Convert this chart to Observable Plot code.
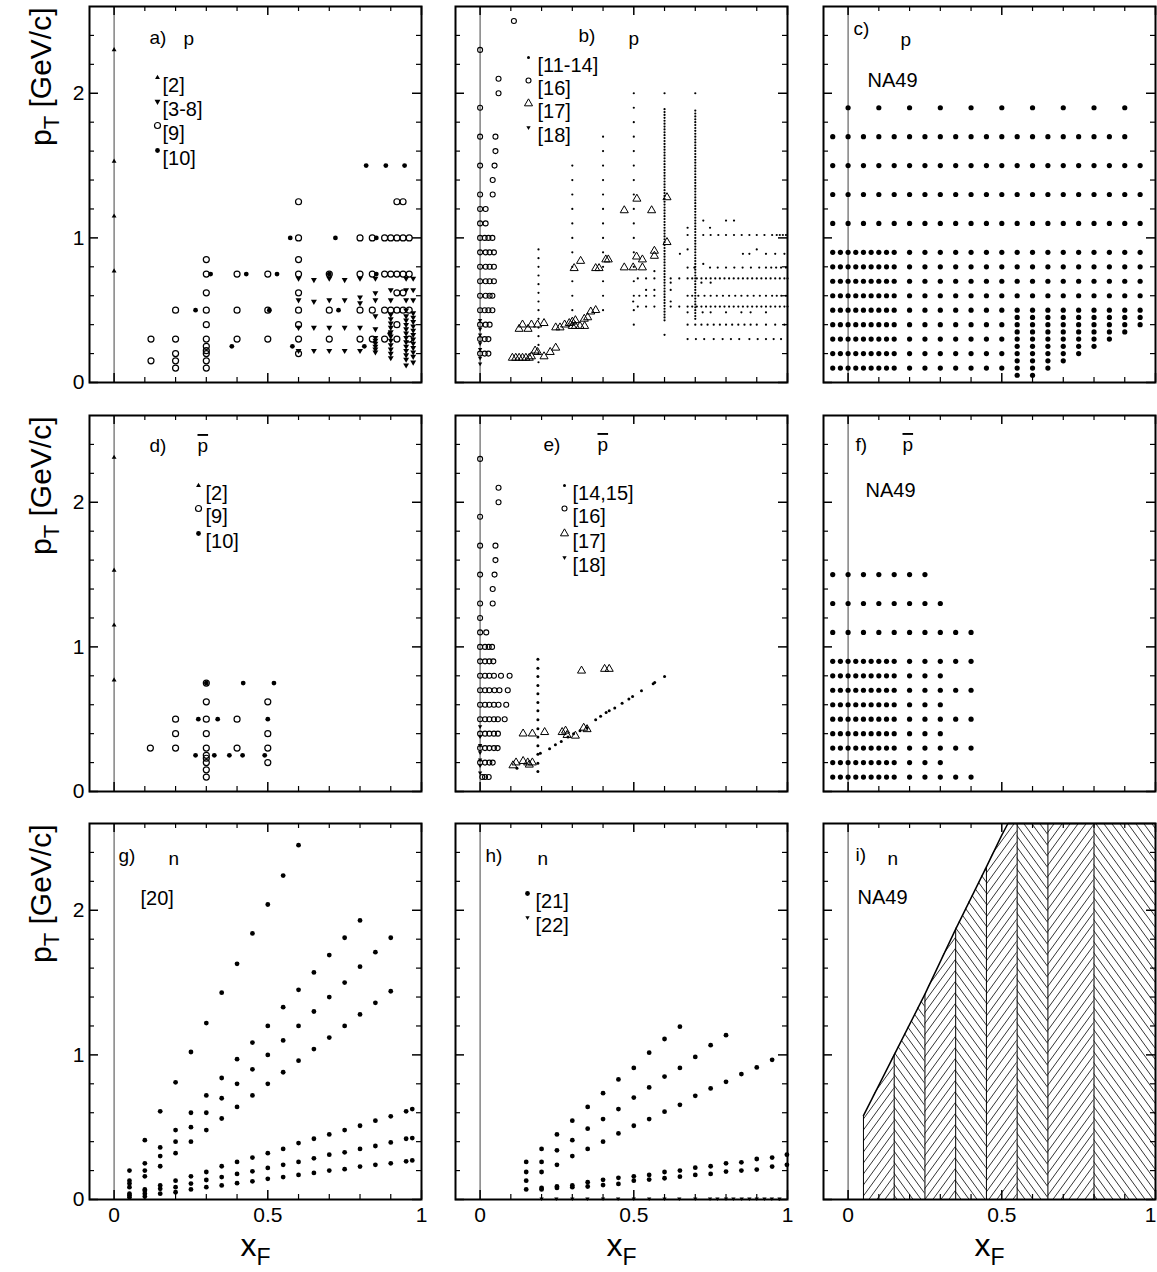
<!DOCTYPE html>
<html><head><meta charset="utf-8">
<script src="https://cdn.jsdelivr.net/npm/d3@7"></script>
<script src="https://cdn.jsdelivr.net/npm/@observablehq/plot@0.6"></script>
<style>
body{margin:0;background:#fff;}
#chart{position:relative;width:1157px;height:1272px;overflow:hidden;background:#fff;}
#chart svg{position:absolute;background:transparent;max-width:none;overflow:visible;}
</style></head><body><div id="chart"></div>
<script>
// ---------------- data ----------------
const xMinorTicks = [0.1,0.2,0.3,0.4,0.6,0.7,0.8,0.9];
const xMajorTicks = [0,0.5,1];
const yMinorTicks = [0.2,0.4,0.6,0.8,1.2,1.4,1.6,1.8,2.2,2.4];
const yMajorTicks = [0,1,2];

// panel a (p)
const aRef2 = [[0,0.77],[0,1.15],[0,1.53],[0,2.30]];
const aRef38 = [[0.6,0.72],[0.6,0.57],[0.6,0.38],[0.6,0.22],[0.65,0.71],[0.65,0.56],[0.65,0.38],[0.65,0.22],
 [0.7,0.72],[0.7,0.57],[0.7,0.38],[0.7,0.22],[0.75,0.71],[0.75,0.57],[0.75,0.38],[0.75,0.22],
 [0.8,0.72],[0.8,0.59],[0.8,0.55],[0.8,0.38],[0.8,0.22],
 [0.85,0.72],[0.85,0.62],[0.85,0.57],[0.85,0.46],[0.85,0.37],[0.85,0.31],[0.85,0.29],[0.85,0.27],[0.85,0.25],[0.85,0.23],[0.85,0.21],
 [0.9,0.64],[0.9,0.57],[0.9,0.47],[0.9,0.44],[0.9,0.41],[0.9,0.38],[0.9,0.35],[0.9,0.32],[0.9,0.29],[0.9,0.26],[0.9,0.23],[0.9,0.2],[0.9,0.17],
 [0.95,0.72],[0.95,0.64],[0.95,0.57],[0.95,0.5],[0.95,0.46],[0.95,0.43],[0.95,0.4],[0.95,0.37],[0.95,0.34],[0.95,0.31],[0.95,0.28],[0.95,0.25],[0.95,0.22],[0.95,0.19],[0.95,0.16],[0.95,0.12],
 [0.973,0.72],[0.973,0.64],[0.973,0.57],[0.973,0.48],[0.973,0.45],[0.973,0.42],[0.973,0.39],[0.973,0.36],[0.973,0.33],[0.973,0.3],[0.973,0.27],[0.973,0.24],[0.973,0.21],[0.973,0.18],[0.973,0.14]];
const aRef9 = [[0.12,0.3],[0.12,0.15],[0.2,0.5],[0.2,0.3],[0.2,0.2],[0.2,0.15],[0.2,0.1],
 [0.3,0.85],[0.3,0.75],[0.3,0.62],[0.3,0.5],[0.3,0.4],[0.3,0.3],[0.3,0.25],[0.3,0.22],[0.3,0.2],[0.3,0.15],[0.3,0.1],
 [0.4,0.75],[0.4,0.5],[0.4,0.3],[0.5,0.75],[0.5,0.5],[0.5,0.3],
 [0.6,1.25],[0.6,1.0],[0.6,0.85],[0.6,0.75],[0.6,0.62],[0.6,0.5],[0.6,0.4],[0.6,0.3],[0.6,0.2],
 [0.7,0.75],[0.7,0.5],[0.7,0.3],[0.8,1.0],[0.8,0.75],[0.8,0.5],[0.8,0.3],
 [0.84,1.0],[0.84,0.75],[0.84,0.5],[0.84,0.3],[0.88,1.0],[0.88,0.75],[0.88,0.5],[0.88,0.3],
 [0.9,1.0],[0.9,0.75],[0.9,0.5],[0.92,1.25],[0.92,1.0],[0.92,0.75],[0.92,0.62],[0.92,0.5],[0.92,0.4],[0.92,0.3],
 [0.94,1.25],[0.94,1.0],[0.94,0.75],[0.94,0.62],[0.94,0.5],[0.96,1.0],[0.96,0.75],[0.96,0.5],[0.96,0.3]];
const aRef10 = [[0.265,0.5],[0.314,0.75],[0.383,0.25],[0.43,0.75],[0.505,0.5],[0.53,0.75],[0.573,1.0],[0.58,0.25],
 [0.7,0.75],[0.72,1.0],[0.73,0.5],[0.814,0.25],[0.82,1.5],[0.853,1.0],[0.853,0.75],[0.884,1.5],[0.945,1.5],[0.897,0.34]];

// panel b (p)
const bRef16 = [[0,2.3],[0,1.9],[0,1.7],[0,1.5],[0,1.3],[0,1.2],[0,1.1],[0,1.0],[0,0.9],[0,0.8],[0,0.7],[0,0.6],[0,0.5],[0,0.4],[0,0.3],[0,0.2],
 [0.018,1.2],[0.018,1.1],[0.015,1.0],[0.027,1.0],[0.04,1.0],[0.018,0.9],[0.031,0.9],[0.045,0.9],
 [0.018,0.8],[0.031,0.8],[0.045,0.8],[0.018,0.7],[0.031,0.7],[0.045,0.7],[0.018,0.6],[0.031,0.6],[0.04,0.6],
 [0.015,0.5],[0.027,0.5],[0.04,0.5],[0.018,0.4],[0.031,0.4],[0.015,0.3],[0.027,0.3],[0.015,0.2],[0.027,0.2],
 [0.11,2.5],[0.06,2.1],[0.06,2.0],[0.05,1.7],[0.05,1.6],[0.047,1.5],[0.041,1.4],[0.041,1.3]];
const bRef17 = [[0.105,0.17],[0.116,0.17],[0.127,0.17],[0.138,0.17],[0.149,0.17],[0.16,0.17],[0.167,0.18],[0.179,0.22],[0.187,0.21],[0.208,0.18],[0.228,0.21],[0.246,0.24],
 [0.127,0.37],[0.138,0.4],[0.156,0.37],[0.167,0.4],[0.187,0.4],[0.208,0.41],
 [0.246,0.38],[0.26,0.38],[0.275,0.4],[0.29,0.41],[0.3,0.42],[0.31,0.43],[0.3,0.39],[0.31,0.39],[0.325,0.39],[0.34,0.39],[0.339,0.44],[0.35,0.45],[0.36,0.49],[0.376,0.5],
 [0.306,0.79],[0.327,0.84],[0.376,0.79],[0.387,0.79],[0.409,0.85],[0.417,0.85],
 [0.469,0.795],[0.498,0.795],[0.528,0.795],[0.469,1.19],[0.51,1.27],[0.558,1.19],[0.509,0.87],[0.528,0.85],[0.567,0.91],[0.567,0.875],[0.608,1.28],[0.608,0.97]];
const bRef18 = [[0,0.43],[0,0.37],[0,0.33],[0,0.27],[0,0.23],[0,0.17],[0,0.13]];
const bDotColX = [0.19, 0.3, 0.4, 0.5, 0.6, 0.7];
const bDotColY = [
 [0.92,0.86,0.8,0.74,0.68,0.62,0.56,0.5,0.44,0.38,0.32,0.26,0.2,0.14],
 [1.5,1.4,1.3,1.2,1.1,1.0,0.9,0.8,0.7,0.6,0.5],
 [1.7,1.6,1.5,1.4,1.3,1.2,1.1,1.0,0.9,0.8,0.7,0.6,0.5],
 [2.0,1.9,1.8,1.7,1.6,1.5,1.4,1.3,1.2,1.1,1.0,0.9,0.8,0.7,0.6,0.5,0.4],
 [2.0,1.89,1.87,1.85,1.83,1.81,1.79,1.77,1.75,1.73,1.71,1.69,1.67,1.65,1.63,1.61,1.59,1.57,1.55,1.53,1.51,1.49,1.47,1.45,1.43,1.41,1.39,1.37,1.35,1.33,1.31,1.29,1.27,1.25,1.23,1.21,1.19,1.17,1.15,1.13,1.11,1.09,1.07,1.05,1.03,1.01,0.99,0.97,0.95,0.93,0.91,0.89,0.87,0.85,0.83,0.81,0.79,0.77,0.75,0.73,0.71,0.69,0.67,0.65,0.63,0.61,0.59,0.57,0.55,0.53,0.51,0.49,0.47,0.45,0.43,0.33],
 [2.0,1.88,1.86,1.84,1.82,1.8,1.78,1.76,1.74,1.72,1.7,1.68,1.66,1.64,1.62,1.6,1.58,1.56,1.54,1.52,1.5,1.48,1.46,1.44,1.42,1.4,1.38,1.36,1.34,1.32,1.3,1.28,1.26,1.24,1.22,1.2,1.18,1.16,1.14,1.12,1.1,1.08,1.06,1.04,1.02,1.0,0.98,0.96,0.94,0.92,0.9,0.88,0.86,0.84,0.82,0.8,0.78,0.76,0.74,0.72,0.7,0.68,0.66,0.64,0.62,0.6,0.58,0.56,0.54,0.52,0.5,0.48,0.46,0.44]
];
const bDotRowY = [1.12, 1.07, 1.02, 0.92, 0.89, 0.82, 0.795, 0.77, 0.72, 0.69, 0.64, 0.6, 0.56, 0.525, 0.485, 0.4, 0.3];
const bDotRowX = [
 [0.726,0.8,0.826],
 [0.675,0.748],
 [0.675,0.726,0.75,0.775,0.8,0.826,0.851,0.876,0.9,0.925,0.95,0.965,0.975,0.985,0.995],
 [0.675,0.9],
 [0.65,0.855,0.876,0.93,0.96,0.99],
 [0.726],
 [0.675,0.697,0.748,0.773,0.8,0.827,0.854,0.881,0.908,0.93,0.947,0.963,0.979,0.995],
 [0.567],
 [0.513,0.54,0.567,0.62,0.648,0.675,0.69,0.705,0.72,0.735,0.75,0.765,0.78,0.795,0.81,0.825,0.84,0.855,0.87,0.885,0.9,0.915,0.93,0.945,0.96,0.975,0.99,1.0],
 [0.62,0.72,0.75],
 [0.54,0.567,0.62],
 [0.518,0.54,0.567,0.675,0.69,0.71,0.73,0.75,0.77,0.79,0.81,0.83,0.85,0.87,0.89,0.91,0.93,0.95,0.965,0.98,0.995],
 [0.498,0.62],
 [0.513,0.54,0.567,0.62,0.648,0.675,0.69,0.705,0.72,0.735,0.75,0.765,0.78,0.795,0.81,0.825,0.84,0.855,0.87,0.885,0.9,0.915,0.93,0.945,0.96,0.975,0.99,1.0],
 [0.675,0.724,0.75,0.8,0.85,0.88,0.93],
 [0.675,0.7,0.72,0.74,0.76,0.78,0.8,0.82,0.84,0.86,0.88,0.9,0.93,0.96,0.99],
 [0.675,0.702,0.729,0.76,0.789,0.816,0.843,0.876,0.903,0.93,0.955,0.979]
];

// panel c (p, NA49)
const cXwide = [-0.05,0,0.05,0.1,0.15,0.2,0.25,0.3,0.35,0.4,0.45,0.5,0.55,0.6,0.65,0.7,0.75,0.8,0.85,0.9,0.95];
const cXtop = [0,0.1,0.2,0.3,0.4,0.5,0.6,0.7,0.8,0.9];
const cX17 = [-0.05,0,0.05,0.1,0.15,0.2,0.25,0.3,0.35,0.4,0.45,0.5,0.55,0.6,0.65,0.7,0.75,0.8,0.85,0.9];
const cXfine = [-0.05,-0.025,0,0.025,0.05,0.075,0.1,0.125,0.15,0.2,0.25,0.3,0.35,0.4,0.45,0.5];
const cXhigh = [0.55,0.6,0.65,0.7,0.75,0.8,0.85,0.9,0.95];
const cRowY = [1.9,1.7,1.5,1.3,1.1,0.9,0.8,0.7,0.6,0.5,0.4,0.3,0.2,0.1];
const cRowX = [cXtop,cX17,cXwide,cXwide,cXwide,
 [...cXfine,...cXhigh],[...cXfine,...cXhigh],[...cXfine,...cXhigh],[...cXfine,...cXhigh],[...cXfine,...cXhigh],
 cXfine,cXfine,cXfine,cXfine];
const cColY = [
 [0.45,0.4,0.35,0.3,0.25,0.2,0.15,0.1,0.05],
 [0.45,0.4,0.35,0.3,0.25,0.2,0.15,0.1,0.05],
 [0.45,0.4,0.35,0.3,0.25,0.2,0.15,0.1],
 [0.45,0.4,0.35,0.3,0.25,0.2,0.15],
 [0.45,0.4,0.35,0.3,0.25,0.2],
 [0.45,0.4,0.35,0.3,0.25],
 [0.45,0.4,0.35,0.3],
 [0.45,0.4,0.35],
 [0.45,0.4]
];

// panel d (pbar)
const dRef2 = [[0,0.77],[0,1.15],[0,1.53],[0,2.31]];
const dRef9 = [[0.118,0.3],[0.2,0.5],[0.2,0.4],[0.2,0.3],[0.3,0.75],[0.3,0.62],[0.3,0.5],[0.3,0.4],[0.3,0.3],[0.3,0.25],[0.3,0.23],[0.3,0.2],[0.3,0.15],[0.3,0.1],
 [0.4,0.5],[0.4,0.3],[0.5,0.62],[0.5,0.4],[0.5,0.3],[0.5,0.2]];
const dRef10 = [[0.3,0.75],[0.42,0.75],[0.52,0.75],[0.274,0.5],[0.337,0.5],[0.5,0.5],[0.265,0.25],[0.326,0.25],[0.375,0.25],[0.418,0.25],[0.49,0.25]];

// panel e (pbar)
const eRef1415 = [[0.188,0.915],[0.188,0.853],[0.188,0.796],[0.188,0.733],[0.188,0.676],[0.188,0.616],[0.188,0.558],[0.188,0.496],[0.188,0.434],[0.188,0.376],[0.188,0.316],[0.188,0.258],[0.188,0.196],[0.188,0.138],
 [0.12,0.16],[0.196,0.265],[0.226,0.295],[0.245,0.323],[0.264,0.346],[0.286,0.376],[0.304,0.4],[0.325,0.42],[0.348,0.44],[0.376,0.496],[0.392,0.52],[0.41,0.547],[0.42,0.558],[0.438,0.577],[0.462,0.61],[0.484,0.64],[0.496,0.657],[0.525,0.697],[0.563,0.745],[0.568,0.754],[0.6,0.796]];
const eRef16 = [[0,2.3],[0,1.9],[0,1.7],[0,1.5],[0,1.3],[0,1.2],[0,1.1],[0,1.0],[0,0.9],[0,0.8],[0,0.7],[0,0.6],[0,0.5],[0,0.4],[0,0.3],[0,0.2],
 [0.06,2.1],[0.06,2.0],[0.05,1.7],[0.05,1.6],[0.047,1.5],[0.041,1.4],[0.041,1.3],[0.02,1.1],
 [0.016,1.0],[0.028,1.0],[0.039,1.0],[0.016,0.9],[0.03,0.9],[0.043,0.9],
 [0.016,0.8],[0.03,0.8],[0.045,0.8],[0.068,0.8],[0.096,0.8],[0.016,0.7],[0.03,0.7],[0.047,0.7],[0.063,0.7],[0.09,0.7],
 [0.016,0.6],[0.03,0.6],[0.045,0.6],[0.06,0.6],[0.085,0.6],[0.016,0.5],[0.03,0.5],[0.045,0.5],[0.058,0.5],[0.08,0.5],
 [0.016,0.4],[0.03,0.4],[0.045,0.4],[0.058,0.4],[0.016,0.3],[0.03,0.3],[0.045,0.3],[0.057,0.3],
 [0.016,0.2],[0.03,0.2],[0.041,0.2],[0.007,0.1],[0.016,0.1],[0.028,0.1]];
const eRef17 = [[0.107,0.18],[0.117,0.2],[0.14,0.21],[0.155,0.2],[0.17,0.2],[0.16,0.185],[0.14,0.4],[0.17,0.4],[0.21,0.41],
 [0.267,0.41],[0.278,0.42],[0.283,0.39],[0.31,0.385],[0.337,0.44],[0.348,0.43],[0.33,0.835],[0.405,0.847],[0.42,0.847]];
const eRef18 = [[0,0.45],[0,0.38],[0,0.32],[0,0.27],[0,0.22],[0,0.18],[0,0.13]];

// panel f (pbar, NA49)
const fXfine = [-0.05,-0.025,0,0.025,0.05,0.075,0.1,0.125,0.15];
const fRowY = [1.5,1.3,1.1,0.9,0.8,0.7,0.6,0.5,0.4,0.3,0.2,0.1];
const fRowX = [
 [-0.05,0,0.05,0.1,0.15,0.2,0.25],
 [-0.05,0,0.05,0.1,0.15,0.2,0.25,0.3],
 [-0.05,0,0.05,0.1,0.15,0.2,0.25,0.3,0.35,0.4],
 [...fXfine,0.2,0.25,0.3,0.35,0.4],[...fXfine,0.2,0.25,0.3],
 [...fXfine,0.2,0.25,0.3,0.35,0.4],[...fXfine,0.2,0.25,0.3],
 [...fXfine,0.2,0.25,0.3,0.35,0.4],[...fXfine,0.2,0.25,0.3],
 [...fXfine,0.2,0.25,0.3,0.35,0.4],[...fXfine,0.2,0.25,0.3],
 [...fXfine,0.2,0.25,0.3,0.35,0.4]
];

// panel g (n, [20])
const gRef20 = [
 [0.05,0.2],[0.1,0.41],[0.15,0.61],[0.2,0.81],[0.25,1.02],[0.3,1.22],[0.35,1.43],[0.4,1.63],[0.45,1.84],[0.5,2.04],[0.55,2.24],[0.6,2.45],
 [0.1,0.25],[0.15,0.36],[0.2,0.48],[0.25,0.6],[0.3,0.72],[0.35,0.84],[0.4,0.97],[0.45,1.085],[0.5,1.2],[0.55,1.33],[0.6,1.45],[0.65,1.57],[0.7,1.69],[0.75,1.81],[0.8,1.93],
 [0.05,0.13],[0.1,0.2],[0.15,0.3],[0.2,0.4],[0.25,0.5],[0.3,0.6],[0.35,0.7],[0.4,0.8],[0.45,0.9],[0.5,1.0],[0.55,1.1],[0.6,1.2],[0.65,1.3],[0.7,1.4],[0.75,1.5],[0.8,1.61],[0.85,1.71],[0.9,1.81],
 [0.05,0.11],[0.1,0.16],[0.15,0.23],[0.2,0.32],[0.25,0.4],[0.3,0.48],[0.35,0.56],[0.4,0.64],[0.45,0.72],[0.5,0.8],[0.55,0.88],[0.6,0.96],[0.65,1.04],[0.7,1.12],[0.75,1.2],[0.8,1.28],[0.85,1.36],[0.9,1.44],
 [0.05,0.085],[0.1,0.07],[0.15,0.097],[0.2,0.13],[0.25,0.16],[0.3,0.19],[0.35,0.23],[0.4,0.26],[0.45,0.29],[0.5,0.32],[0.55,0.35],[0.6,0.39],[0.65,0.42],[0.7,0.45],[0.75,0.48],[0.8,0.51],[0.85,0.545],[0.9,0.575],[0.95,0.61],[0.97,0.625],
 [0.05,0.04],[0.1,0.04],[0.15,0.074],[0.2,0.085],[0.25,0.11],[0.3,0.135],[0.35,0.155],[0.4,0.177],[0.45,0.195],[0.5,0.218],[0.55,0.24],[0.6,0.26],[0.65,0.285],[0.7,0.31],[0.75,0.326],[0.8,0.35],[0.85,0.37],[0.9,0.395],[0.95,0.42],[0.97,0.425],
 [0.05,0.016],[0.1,0.02],[0.15,0.04],[0.2,0.05],[0.25,0.07],[0.3,0.085],[0.35,0.097],[0.4,0.113],[0.45,0.126],[0.5,0.143],[0.55,0.155],[0.6,0.17],[0.65,0.184],[0.7,0.2],[0.75,0.21],[0.8,0.228],[0.85,0.24],[0.9,0.25],[0.95,0.264],[0.97,0.27],
 [0.05,0.03],[0.1,0.06]
];

// panel h (n, [21], [22])
const hRef21 = [
 [0.15,0.26],[0.2,0.35],[0.25,0.45],[0.3,0.545],[0.35,0.64],[0.4,0.735],[0.45,0.83],[0.5,0.91],[0.55,1.015],[0.6,1.11],[0.65,1.195],
 [0.15,0.19],[0.2,0.26],[0.25,0.34],[0.3,0.41],[0.35,0.49],[0.4,0.556],[0.45,0.625],[0.5,0.705],[0.55,0.775],[0.6,0.85],[0.65,0.91],[0.7,0.986],[0.75,1.067],[0.8,1.136],
 [0.15,0.13],[0.2,0.19],[0.25,0.24],[0.3,0.3],[0.35,0.35],[0.4,0.4],[0.45,0.457],[0.5,0.51],[0.55,0.556],[0.6,0.607],[0.65,0.655],[0.7,0.717],[0.75,0.768],[0.8,0.814],[0.85,0.867],[0.9,0.913],[0.95,0.966],
 [0.15,0.07],[0.2,0.08],[0.25,0.09],[0.3,0.097],[0.35,0.12],[0.4,0.136],[0.45,0.15],[0.5,0.16],[0.55,0.17],[0.6,0.19],[0.65,0.2],[0.7,0.22],[0.75,0.23],[0.8,0.25],[0.85,0.257],[0.9,0.28],[0.95,0.29],[0.998,0.31],
 [0.2,0.07],[0.25,0.08],[0.3,0.085],[0.35,0.09],[0.4,0.1],[0.45,0.108],[0.5,0.13],[0.55,0.138],[0.6,0.147],[0.65,0.158],[0.7,0.17],[0.75,0.177],[0.8,0.193],[0.85,0.2],[0.9,0.207],[0.95,0.228],[0.998,0.24]
];
const hRef22X = [0.2,0.248,0.3,0.349,0.4,0.449,0.5,0.55,0.6,0.648,0.7,0.748,0.772,0.8,0.824,0.851,0.876,0.9,0.925,0.949,0.974];
const hRef22Y = 0.006;

// panel i (n, NA49 acceptance)
const iEdgeX = [0.05,0.15,0.25,0.35,0.45,0.5,0.52,0.55,0.65,0.8,1.0];
const iEdgeY = [0.58,1.0,1.42,1.87,2.3,2.52,2.6,2.6,2.6,2.6,2.6];
const iStrips = [0.05,0.15,0.25,0.35,0.45,0.55,0.65,0.8,1.0];

// ---------------- layout / helpers ----------------
const FONT = '"Liberation Sans", Arial, Helvetica, sans-serif';
const W = 332, H = 376;
const colLeft = [89, 455, 823];
const rowTop = [6, 415, 823];
const TAG = 19, LEG = 20;
const sqrt3 = Math.sqrt(3);
const triangleDown = {draw(c, size) { const y = Math.sqrt(size / (sqrt3 * 3)); c.moveTo(0, 2 * y); c.lineTo(-sqrt3 * y, -y); c.lineTo(sqrt3 * y, -y); c.closePath(); }};
const ST = {
  open: {r: 3, stroke: "black", strokeWidth: 1.2, fill: "none"},
  open16: {r: 2.5, stroke: "black", strokeWidth: 1.1, fill: "none"},
  filled: {r: 2.4, fill: "black"},
  tiny: {r: 1.1, fill: "black"},
  small: {r: 1.5, fill: "black"},
  triUp: {r: 1.8, symbol: "triangle", fill: "black"},
  triDown: {r: 2.2, symbol: triangleDown, fill: "black"},
  triDownSmall: {r: 1.6, symbol: triangleDown, fill: "black"},
  triOpen: {r: 3, symbol: "triangle", fill: "none", stroke: "black", strokeWidth: 1},
  na49: {r: 2.6, fill: "black"}
};
const PBAR = "p\u0304";
const pts = (data, st) => Plot.dot(data, {x: d => d[0], y: d => d[1], ...st});
const note = (s, dx, dy, fs = TAG) => Plot.text([s], {text: d => d, frameAnchor: "top-left", dx, dy, textAnchor: "start", fontSize: fs, fill: "black"});
const legendItem = (st, s, dx, dy, tdx) => [
  Plot.dot([0], {frameAnchor: "top-left", dx, dy, ...st}),
  Plot.text([s], {text: d => d, frameAnchor: "top-left", dx: tdx, dy, textAnchor: "start", fontSize: LEG, fill: "black"})
];
const rowsToPts = (ys, xss) => ys.flatMap((y, i) => xss[i].map(x => [x, y]));
const colsToPts = (xs, yss) => xs.flatMap((x, i) => yss[i].map(y => [x, y]));

function axesMarks() {
  return [
    Plot.ruleX(xMinorTicks, {insetTop: H - 5, strokeWidth: 1.2}),
    Plot.ruleX(xMinorTicks, {insetBottom: H - 5, strokeWidth: 1.2}),
    Plot.ruleX(xMajorTicks, {insetTop: H - 9, strokeWidth: 1.5}),
    Plot.ruleX(xMajorTicks, {insetBottom: H - 9, strokeWidth: 1.5}),
    Plot.ruleY(yMinorTicks, {insetRight: W - 5, strokeWidth: 1.2}),
    Plot.ruleY(yMinorTicks, {insetLeft: W - 5, strokeWidth: 1.2}),
    Plot.ruleY(yMajorTicks, {insetRight: W - 9, strokeWidth: 1.5}),
    Plot.ruleY(yMajorTicks, {insetLeft: W - 9, strokeWidth: 1.5})
  ];
}

function withText(svg, content) {
  return d3.select(svg).selectAll("text").filter(function () { return this.textContent === content; });
}
function sub(svg, content, base, s, rest, shift, subSize) {
  withText(svg, content).each(function () {
    const t = d3.select(this);
    t.text(null);
    t.append("tspan").text(base);
    t.append("tspan").attr("dy", shift).attr("font-size", subSize).text(s);
    if (rest) t.append("tspan").attr("dy", -shift).text(rest);
  });
}
function overline(svg) {
  withText(svg, PBAR).each(function () {
    d3.select(this).text("p").style("text-decoration", "overline");
  });
}

function panel(col, row, content, after) {
  const mL = col === 0 ? 89 : 4, mR = 4, mT = 6, mB = row === 2 ? 73 : 4;
  const marks = [Plot.ruleX([0], {stroke: "#444", strokeWidth: 1}), ...content, ...axesMarks()];
  if (col === 0) {
    marks.push(Plot.text(yMajorTicks, {y: d => d, text: d => String(d), frameAnchor: "left", dx: -5, textAnchor: "end", fontSize: 21}));
    marks.push(Plot.text(["pT [GeV/c]"], {text: d => d, frameAnchor: "top-left", dx: -60, dy: 1, rotate: -90, textAnchor: "end", fontSize: 30}));
  }
  if (row === 2) {
    marks.push(Plot.text(xMajorTicks.slice(0, 2), {x: d => d, text: d => String(d), frameAnchor: "bottom", dy: 22, fontSize: 21}));
    marks.push(Plot.text(xMajorTicks.slice(2), {x: d => d, text: d => String(d), frameAnchor: "bottom", dy: 22, dx: col === 2 ? -5 : 0, fontSize: 21}));
    marks.push(Plot.text(["xF"], {text: d => d, frameAnchor: "bottom", dy: 56, fontSize: 32}));
  }
  marks.push(Plot.frame({stroke: "black", strokeWidth: 2}));
  const svg = Plot.plot({
    width: W + mL + mR, height: H + mT + mB,
    marginLeft: mL, marginRight: mR, marginTop: mT, marginBottom: mB,
    x: {domain: [-0.08, 1], axis: null},
    y: {domain: [0, 2.6], axis: null},
    style: {fontFamily: FONT, background: "transparent", color: "black"},
    marks
  });
  svg.style.left = (colLeft[col] - mL) + "px";
  svg.style.top = (rowTop[row] - mT) + "px";
  sub(svg, "pT [GeV/c]", "p", "T", " [GeV/c]", 8, "22px");
  sub(svg, "xF", "x", "F", null, 9, "23px");
  overline(svg);
  if (after) after(svg);
  document.getElementById("chart").append(svg);
}

// ---------------- panels ----------------
// a
panel(0, 0, [
  pts(aRef9, ST.open), pts(aRef38, ST.triDown), pts(aRef10, ST.filled), pts(aRef2, ST.triUp),
  note("a)", 60, 24), note("p", 94, 25),
  ...legendItem(ST.triUp, "[2]", 68, 71, 73),
  ...legendItem(ST.triDown, "[3-8]", 68, 95, 73),
  ...legendItem(ST.open, "[9]", 68, 119, 73),
  ...legendItem(ST.filled, "[10]", 68, 144, 73)
]);
// b
panel(1, 0, [
  pts(colsToPts(bDotColX, bDotColY), ST.tiny), pts(rowsToPts(bDotRowY, bDotRowX), ST.tiny),
  pts(bRef16, ST.open16), pts(bRef17, ST.triOpen), pts(bRef18, ST.triDownSmall),
  note("b)", 123, 22), note("p", 173, 25),
  ...legendItem(ST.small, "[11-14]", 73, 51, 82),
  ...legendItem(ST.open16, "[16]", 73, 74, 82),
  ...legendItem(ST.triOpen, "[17]", 73, 97, 82),
  ...legendItem(ST.triDownSmall, "[18]", 73, 121, 82)
]);
// c
panel(2, 0, [
  pts([...rowsToPts(cRowY, cRowX), ...colsToPts(cXhigh, cColY)], ST.na49),
  note("c)", 30, 15), note("p", 77, 26), note("NA49", 44, 66, 20)
]);
// d
panel(0, 1, [
  pts(dRef9, ST.open), pts(dRef10, ST.filled), pts(dRef2, ST.triUp),
  note("d)", 60, 23), note(PBAR, 108, 23),
  ...legendItem(ST.triUp, "[2]", 109, 70, 116),
  ...legendItem(ST.open, "[9]", 109, 93, 116),
  ...legendItem(ST.filled, "[10]", 109, 118, 116)
]);
// e
panel(1, 1, [
  pts(eRef16, ST.open16), pts(eRef1415, ST.small), pts(eRef17, ST.triOpen), pts(eRef18, ST.triDownSmall),
  note("e)", 88, 22), note(PBAR, 142, 22),
  ...legendItem(ST.small, "[14,15]", 109, 70, 117),
  ...legendItem(ST.open16, "[16]", 109, 93, 117),
  ...legendItem(ST.triOpen, "[17]", 109, 118, 117),
  ...legendItem(ST.triDownSmall, "[18]", 109, 142, 117)
]);
// f
panel(2, 1, [
  pts(rowsToPts(fRowY, fRowX), ST.na49),
  note("f)", 32, 22), note(PBAR, 79, 22), note("NA49", 42, 67, 20)
]);
// g
panel(0, 2, [
  pts(gRef20, ST.filled),
  note("g)", 29, 25), note("n", 79, 28), note("[20]", 51, 67, LEG)
]);
// h
panel(1, 2, [
  pts(hRef21, ST.filled), pts(hRef22X.map(x => [x, hRef22Y]), ST.triDownSmall),
  note("h)", 30, 25), note("n", 82, 28),
  ...legendItem(ST.filled, "[21]", 72, 70, 80),
  ...legendItem(ST.triDownSmall, "[22]", 72, 94, 80)
]);
// i
const iPts = [];
for (let k = 0; k < iStrips.length - 1; k++) {
  iEdgeX.forEach((x, j) => { if (x >= iStrips[k] - 1e-9 && x <= iStrips[k + 1] + 1e-9) iPts.push({x, y: iEdgeY[j], k}); });
}
const iEdgeTop = x => iEdgeY[iEdgeX.indexOf(x)];
panel(2, 2, [
  Plot.areaY(iPts.filter(d => d.k % 2 === 0), {x: "x", y: "y", z: "k", fill: "url(#hatchR)", stroke: "none"}),
  Plot.areaY(iPts.filter(d => d.k % 2 === 1), {x: "x", y: "y", z: "k", fill: "url(#hatchL)", stroke: "none"}),
  Plot.ruleX(iStrips.slice(0, -1), {x: d => d, y1: 0, y2: d => iEdgeTop(d), strokeWidth: 1}),
  Plot.line(iEdgeX.map((x, j) => [x, iEdgeY[j]]), {x: d => d[0], y: d => d[1], strokeWidth: 1.5}),
  note("i)", 32, 24), note("n", 64, 28), note("NA49", 34, 66, 20)
], svg => {
  const defs = d3.select(svg).insert("defs", ":first-child");
  const w = 8, h = 11;
  const pr = defs.append("pattern").attr("id", "hatchR").attr("patternUnits", "userSpaceOnUse").attr("width", w).attr("height", h);
  pr.append("path").attr("d", `M${-w},${2*h}L${2*w},${-h}M${-w},${h}L${w},${-h}M0,${2*h}L${2*w},0`).attr("stroke", "black").attr("stroke-width", 0.8).attr("fill", "none");
  const pl = defs.append("pattern").attr("id", "hatchL").attr("patternUnits", "userSpaceOnUse").attr("width", w).attr("height", h);
  pl.append("path").attr("d", `M${-w},${-h}L${2*w},${2*h}M${-w},0L${w},${2*h}M0,${-h}L${2*w},${h}`).attr("stroke", "black").attr("stroke-width", 0.8).attr("fill", "none");
});
</script></body></html>
